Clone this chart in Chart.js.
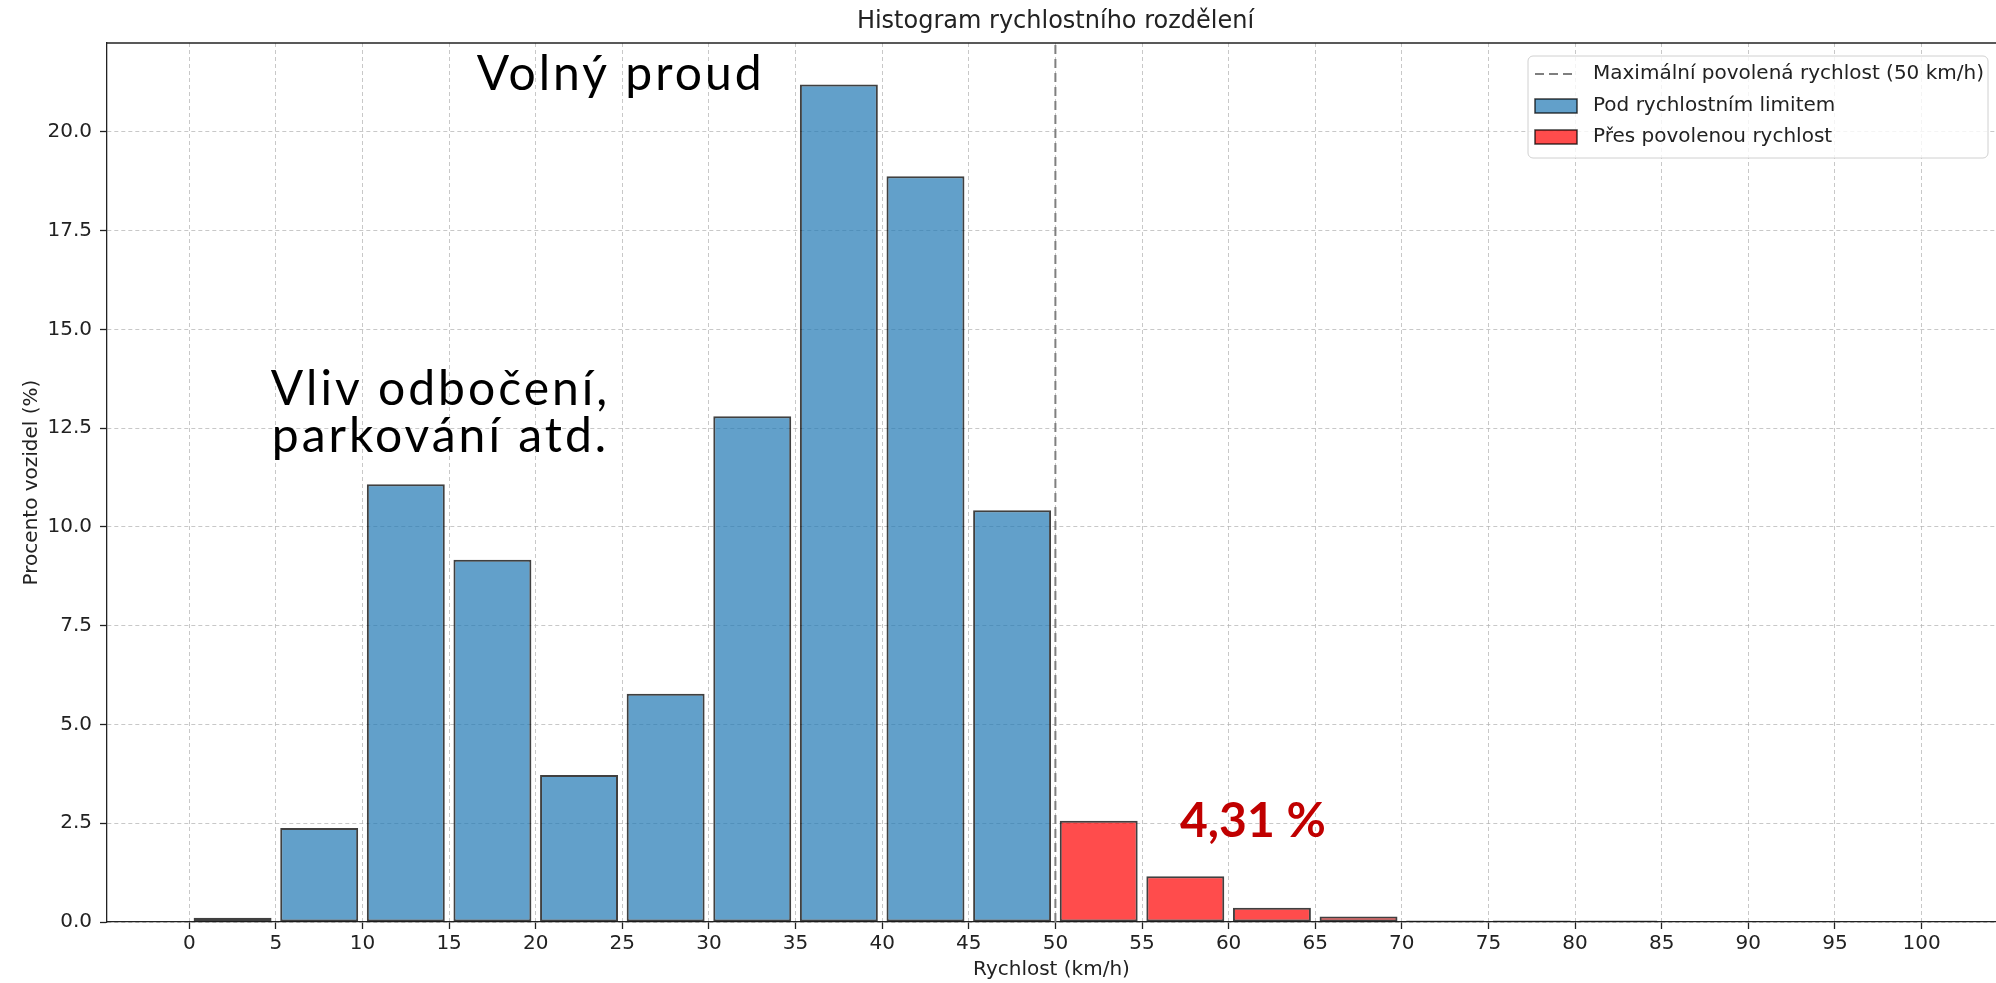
<!DOCTYPE html>
<html lang="cs">
<head>
<meta charset="utf-8">
<title>Histogram rychlostního rozdělení</title>
<script src="https://cdn.jsdelivr.net/npm/chart.js@4.4.1/dist/chart.umd.min.js"></script>
<style>
    html, body { margin: 0; padding: 0; background: #fff; }
    #wrap { width: 1996px; height: 983px; }
</style>
</head>
<body>
<div id="wrap"><canvas id="speedChart" width="1996" height="983"></canvas></div>
<script>
// histogram bins, 5 km/h wide, values in % of vehicles
const belowBinStarts = [0, 5, 10, 15, 20, 25, 30, 35, 40, 45];
const belowValues = [0.11, 2.38, 11.08, 9.17, 3.72, 5.78, 12.8, 21.2, 18.88, 10.42];
const overBinStarts = [50, 55, 60, 65, 70, 75, 80];
const overValues = [2.56, 1.16, 0.36, 0.14, 0.04, 0.04, 0.04];

const BIN_WIDTH = 5;
const SPEED_LIMIT = 50;
const X_MIN = -4.75;
const X_MAX = 104.3;
const Y_MAX = 22.25;
const X_STEP = 5;
const Y_STEP = 2.5;

const TITLE = "Histogram rychlostního rozdělení";
const X_LABEL = "Rychlost (km/h)";
const Y_LABEL = "Procento vozidel (%)";
const legendLabels = [
    "Maximální povolená rychlost (50 km/h)",
    "Pod rychlostním limitem",
    "Přes povolenou rychlost",
];

// text notes placed in data coordinates (x = km/h, y = % baseline)
const notes = [
    { lines: ["Volný proud"], x: 24.9, y: 21.05, color: "#000", bold: false },
    { lines: ["Vliv odbočení,", "parkování atd."], x: 14.5, y: 13.09, color: "#000", bold: false },
    { lines: ["4,31 %"], x: 61.4, y: 2.15, color: "#c00000", bold: true },
];

const COLORS = {
    below: "rgba(31, 119, 180, 0.7)",
    over: "rgba(255, 0, 0, 0.7)",
    edge: "rgba(0, 0, 0, 0.75)",
    limit: "#7f7f7f",
    grid: "rgba(176, 176, 176, 0.7)",
    axis: "#222",
};

const TICK_FONT = { family: "DejaVu Sans", size: 20 };
const NOTE_FONT = "Lato";

function toBars(starts, values) {
    return starts.map((s, i) => ({ x: s + BIN_WIDTH / 2, y: values[i] }));
}

const overlayPlugin = {
    id: "overlay",
    afterDraw(chart) {
        const { ctx, chartArea: area, scales } = chart;
        ctx.save();

        // top spine
        ctx.strokeStyle = COLORS.axis;
        ctx.lineWidth = 1.3;
        ctx.beginPath();
        ctx.moveTo(area.left, area.top);
        ctx.lineTo(area.right, area.top);
        ctx.stroke();

        // title
        ctx.fillStyle = "#222";
        ctx.font = "24px 'DejaVu Sans'";
        ctx.textAlign = "center";
        ctx.textBaseline = "middle";
        ctx.fillText(TITLE, (area.left + area.right) / 2 + 4, 22);

        // notes
        notes.forEach((n) => {
            const px = scales.x.getPixelForValue(n.x);
            let py = scales.y.getPixelForValue(n.y);
            ctx.fillStyle = n.color;
            ctx.font = (n.bold ? "bold " : "") + "48px " + NOTE_FONT;
            ctx.letterSpacing = n.bold ? "0px" : "3px";
            ctx.textAlign = "center";
            ctx.textBaseline = "alphabetic";
            n.lines.forEach((line) => {
                ctx.fillText(line, px, py);
                py += 47;
            });
        });
        ctx.letterSpacing = "0px";

        // legend box, upper right
        const boxW = 460;
        const boxH = 102;
        const bx = area.right - 8 - boxW;
        const by = area.top + 13;
        ctx.fillStyle = "rgba(255,255,255,0.8)";
        ctx.strokeStyle = "#d0d0d0";
        ctx.lineWidth = 1;
        ctx.beginPath();
        ctx.roundRect(bx, by, boxW, boxH, 5);
        ctx.fill();
        ctx.stroke();

        const rowY = [by + 18, by + 50, by + 81];
        const sx = bx + 7;
        const sw = 42;
        const ds = chart.data.datasets;

        ctx.strokeStyle = ds[0].borderColor;
        ctx.lineWidth = 2;
        ctx.setLineDash(ds[0].borderDash);
        ctx.beginPath();
        ctx.moveTo(sx, rowY[0]);
        ctx.lineTo(sx + sw, rowY[0]);
        ctx.stroke();
        ctx.setLineDash([]);

        [1, 2].forEach((k) => {
            ctx.fillStyle = ds[k].backgroundColor;
            ctx.fillRect(sx, rowY[k] - 7, sw, 14);
            ctx.strokeStyle = ds[k].borderColor;
            ctx.lineWidth = 1.5;
            ctx.strokeRect(sx, rowY[k] - 7, sw, 14);
        });

        ctx.fillStyle = "#222";
        ctx.font = "20px 'DejaVu Sans'";
        ctx.textAlign = "left";
        ctx.textBaseline = "middle";
        legendLabels.forEach((t, i) => ctx.fillText(t, sx + sw + 16, rowY[i]));

        ctx.restore();
    },
};

const chart = new Chart(document.getElementById("speedChart"), {
    type: "bar",
    data: {
        datasets: [
            {
                type: "line",
                label: legendLabels[0],
                data: [{ x: SPEED_LIMIT, y: 0 }, { x: SPEED_LIMIT, y: Y_MAX }],
                borderColor: COLORS.limit,
                borderWidth: 2,
                borderDash: [9, 5],
                pointRadius: 0,
                order: 0,
            },
            {
                label: legendLabels[1],
                data: toBars(belowBinStarts, belowValues),
                backgroundColor: COLORS.below,
                borderColor: COLORS.edge,
                borderWidth: 2,
                borderSkipped: false,
                order: 1,
            },
            {
                label: legendLabels[2],
                data: toBars(overBinStarts, overValues),
                backgroundColor: COLORS.over,
                borderColor: COLORS.edge,
                borderWidth: 2,
                borderSkipped: false,
                order: 1,
            },
        ],
    },
    options: {
        responsive: false,
        animation: false,
        events: [],
        layout: { padding: { top: 43, right: 0, bottom: 0, left: 0 } },
        datasets: { bar: { grouped: false, barPercentage: 0.9, categoryPercentage: 1 } },
        plugins: { legend: { display: false }, tooltip: { enabled: false }, title: { display: false } },
        scales: {
            x: {
                type: "linear",
                offset: false,
                min: X_MIN,
                max: X_MAX,
                z: 1,
                ticks: {
                    stepSize: X_STEP,
                    includeBounds: false,
                    maxTicksLimit: 100,
                    autoSkip: false,
                    maxRotation: 0,
                    padding: 3,
                    color: "#222",
                    font: TICK_FONT,
                },
                grid: { offset: false, color: COLORS.grid, lineWidth: 1, tickColor: COLORS.axis, tickLength: 7, tickWidth: 1.3 },
                border: { display: true, color: COLORS.axis, width: 1.3, dash: [4, 3] },
                title: { display: true, text: X_LABEL, color: "#222", font: TICK_FONT, padding: { top: 0, bottom: 1 } },
                afterFit(scale) { scale.height = 61; },
            },
            y: {
                type: "linear",
                min: 0,
                max: Y_MAX,
                z: 1,
                ticks: {
                    stepSize: Y_STEP,
                    includeBounds: false,
                    padding: 8,
                    color: "#222",
                    font: TICK_FONT,
                    callback: (v) => v.toFixed(1),
                },
                grid: { color: COLORS.grid, lineWidth: 1, tickColor: COLORS.axis, tickLength: 7, tickWidth: 1.3 },
                border: { display: true, color: COLORS.axis, width: 1.3, dash: [4, 3] },
                title: { display: true, text: Y_LABEL, color: "#222", font: TICK_FONT, padding: { top: 20, bottom: 0 } },
                afterFit(scale) { scale.width = 107; },
            },
        },
    },
    plugins: [overlayPlugin],
});
</script>
</body>
</html>
